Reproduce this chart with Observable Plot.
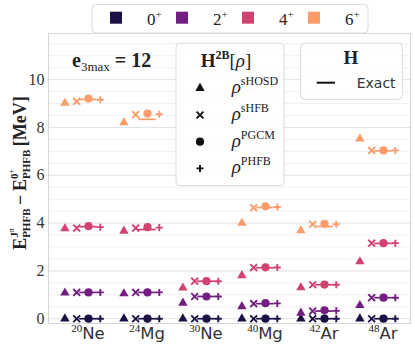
<!DOCTYPE html>
<html>
<head>
<meta charset="utf-8">
<script src="https://cdn.jsdelivr.net/npm/d3@7"></script>
<script src="https://cdn.jsdelivr.net/npm/@observablehq/plot@0.6"></script>
<style>
  html, body { margin: 0; padding: 0; background: white; }
</style>
</head>
<body>
<div id="chart"></div>
<script>
// ---------------- data ----------------
const massNumbers = ["20", "24", "30", "40", "42", "48"];
const elements = ["Ne", "Mg", "Ne", "Mg", "Ar", "Ar"];
const states = ["0+", "2+", "4+", "6+"];
const stateColors = ["#1c1044", "#731f81", "#d1426f", "#fc9c6b"];
const yTicks = [0, 2, 4, 6, 8, 10];
const methods = ["sHOSD", "sHFB", "PGCM", "PHFB"];

// rows: 0+, 2+, 4+, 6+ ; columns: nuclei
const rhoSHOSD = [
  [0, 0, 0, 0, 0, 0],
  [1.08, 1.05, 0.66, 0.51, 0.24, 0.56],
  [3.77, 3.67, 1.29, 1.81, 1.30, 2.39],
  [9.02, 8.21, null, 4.00, 3.69, 7.53]
];
const rhoSHFB = [
  [0, 0, 0, 0, 0, 0],
  [1.10, 1.10, 0.93, 0.63, 0.32, 0.88],
  [3.79, 3.79, 1.57, 2.14, 1.42, 3.16],
  [9.09, 8.54, null, 4.64, 3.95, 7.04]
];
const rhoPGCM = [
  [0, 0, 0, 0, 0, 0],
  [1.10, 1.10, 0.93, 0.65, 0.35, 0.88],
  [3.87, 3.83, 1.57, 2.15, 1.43, 3.16],
  [9.21, 8.58, null, 4.70, 3.97, 7.04]
];
const rhoPHFB = [
  [0, 0, 0, 0, 0, 0],
  [1.10, 1.10, 0.93, 0.64, 0.33, 0.88],
  [3.83, 3.81, 1.57, 2.14, 1.42, 3.16],
  [9.16, 8.55, null, 4.67, 3.95, 7.04]
];
const exactH = [
  [0, 0, 0, 0, 0, 0],
  [1.10, 1.10, 0.93, 0.63, 0.32, 0.88],
  [3.85, 3.73, 1.57, 2.13, 1.42, 3.15],
  [9.17, 8.34, null, 4.65, 3.86, 7.02]
];

// ---------------- build tables ----------------
const offsets = {sHOSD: -0.4, sHFB: -0.2, PGCM: 0, PHFB: 0.2};
const methodData = {sHOSD: rhoSHOSD, sHFB: rhoSHFB, PGCM: rhoPGCM, PHFB: rhoPHFB};
function rowsFor(method) {
  const out = [];
  methodData[method].forEach((vals, s) => vals.forEach((v, i) => {
    if (v != null) out.push({x: i + offsets[method], y: v, state: states[s]});
  }));
  return out;
}
const exactRows = [];
exactH.forEach((vals, s) => vals.forEach((v, i) => {
  if (v != null) exactRows.push({x1: i - 0.15, x2: i + 0.15, y: v, state: states[s]});
}));
const minorTicks = d3.range(0, 12, 0.5).filter(v => v % 2 !== 0);

const SERIF = "'Liberation Serif', 'DejaVu Serif', serif";
const SANS = "'DejaVu Sans', sans-serif";
const INK = "#222";

const chart = Plot.plot({
  width: 415,
  height: 349,
  marginLeft: 48,
  marginRight: 5,
  marginTop: 33,
  marginBottom: 26,
  x: {domain: [-0.678, 5.458], axis: null},
  y: {domain: [-0.2, 11.93], axis: null},
  color: {domain: states, range: stateColors},
  style: {background: "white", color: "#333", overflow: "visible"},
  marks: [
    Plot.ruleY(minorTicks, {stroke: "#f0f0f0", strokeWidth: 1}),
    Plot.ruleY(yTicks, {stroke: "#e1e1e1", strokeWidth: 1}),
    Plot.frame({stroke: "#d6d6d6"}),
    Plot.axisY(yTicks, {tickSize: 0, tickPadding: 4, fontSize: 16, fontFamily: SERIF, label: null}),
    Plot.ruleY(exactRows, {y: "y", x1: "x1", x2: "x2", stroke: "state", strokeWidth: 1.7}),
    Plot.dot(rowsFor("sHOSD"), {x: "x", y: "y", symbol: "triangle", fill: "state", r: 3.5}),
    Plot.dot(rowsFor("sHFB"), {x: "x", y: "y", symbol: "times", stroke: "state", r: 3.2, strokeWidth: 1.9}),
    Plot.dot(rowsFor("PGCM"), {x: "x", y: "y", symbol: "circle", fill: "state", r: 4.1}),
    Plot.dot(rowsFor("PHFB"), {x: "x", y: "y", symbol: "plus", stroke: "state", r: 2.4, strokeWidth: 1.9})
  ]
});
document.getElementById("chart").appendChild(chart);

// ---------------- rich text helpers ----------------
const svg = d3.select(chart);
const ctx = document.createElement("canvas").getContext("2d");
function measure(p) {
  ctx.font = `${p.style || "normal"} ${p.weight || "normal"} ${p.size}px ${p.family || SERIF}`;
  return ctx.measureText(p.t).width;
}
function layout(g, parts, x0) {
  let x = x0;
  for (const p of parts) {
    if (p.stack) {
      const ends = p.stack.map(seq => layout(g, seq, x));
      x = Math.max(...ends);
    } else {
      g.append("text")
        .attr("x", x).attr("y", p.dy || 0)
        .attr("text-anchor", "start")
        .style("font-family", p.family || SERIF)
        .style("font-size", p.size + "px")
        .style("font-weight", p.weight || "normal")
        .style("font-style", p.style || "normal")
        .style("white-space", "pre")
        .attr("fill", p.fill || INK)
        .text(p.t);
      x += measure(p) + (p.gap || 0);
    }
  }
  return x;
}
function rich(parent, parts, {x, y, anchor = "start", rotate = 0}) {
  const g = parent.append("g");
  const inner = g.append("g");
  const w = layout(inner, parts, 0);
  const shift = anchor === "middle" ? -w / 2 : anchor === "end" ? -w : 0;
  g.attr("transform", `translate(${x},${y}) rotate(${rotate})`);
  inner.attr("transform", `translate(${shift},0)`);
  return g;
}

const sx = chart.scale("x");
const ann = svg.append("g").attr("text-anchor", "start");

// x tick labels with superscript mass numbers
massNumbers.forEach((A, i) => {
  rich(ann, [
    {t: A, size: 11, dy: -7},
    {t: elements[i], size: 16.5, family: SANS, fill: "#333"}
  ], {x: sx.apply(i), y: 339, anchor: "middle"});
});

// y axis label
const B = "bold";
rich(ann, [
  {t: "E", size: 18, weight: B},
  {stack: [
    [{t: "J", size: 11, weight: B, dy: -8}, {t: "π", size: 8, dy: -12}],
    [{t: "PHFB", size: 11, weight: B, dy: 4}]
  ]},
  {t: "\u2009−\u2009", size: 18, weight: B},
  {t: "E", size: 18, weight: B},
  {stack: [
    [{t: "0", size: 11, weight: B, dy: -8}, {t: "+", size: 8, dy: -12}],
    [{t: "PHFB", size: 11, weight: B, dy: 4}]
  ]},
  {t: "\u2009[MeV]", size: 18, weight: B}
], {x: 26, y: 173, anchor: "middle", rotate: -90});

// e3max annotation
rich(ann, [
  {t: "e", size: 20, weight: B},
  {t: "3max", size: 13, dy: 4, gap: 5},
  {t: "= 12", size: 20, weight: B}
], {x: 72, y: 67, anchor: "start"});

// ---------------- legends ----------------
function box(x, y, w, h) {
  ann.append("rect").attr("x", x).attr("y", y).attr("width", w).attr("height", h)
    .attr("rx", 4).attr("fill", "white").attr("fill-opacity", 0.9)
    .attr("stroke", "#d9d9d9").attr("stroke-width", 1);
}

// state legend (top)
box(92, 4.5, 276, 28.5);
states.forEach((s, k) => {
  const x0 = 110 + k * 66;
  ann.append("rect").attr("x", x0).attr("y", 11.7).attr("width", 12).attr("height", 12)
    .attr("fill", stateColors[k]);
  rich(ann, [
    {t: s[0], size: 17},
    {t: "+", size: 11, dy: -7}
  ], {x: x0 + 37, y: 24.5, anchor: "start"});
});

// H2B legend
box(176, 43.3, 108, 142.4);
rich(ann, [
  {t: "H", size: 19, weight: B},
  {t: "2B", size: 12, weight: B, dy: -8},
  {t: "[", size: 19},
  {t: "ρ", size: 19, style: "italic"},
  {t: "]", size: 19}
], {x: 226, y: 66.7, anchor: "middle"});
const legSymbols = ["triangle", "times", "circle", "plus"];
const symMap = {triangle: d3.symbolTriangle, times: d3.symbolTimes, circle: d3.symbolCircle, plus: d3.symbolPlus};
const symSize = {triangle: Math.PI * 3.5 * 3.5, times: Math.PI * 3.2 * 3.2, circle: Math.PI * 4.1 * 4.1, plus: Math.PI * 2.4 * 2.4};
methods.forEach((m, k) => {
  const cy = 88.3 + k * 26.7;
  const sym = legSymbols[k];
  const stroked = sym === "times" || sym === "plus";
  ann.append("path")
    .attr("d", d3.symbol(symMap[sym], symSize[sym])())
    .attr("transform", `translate(200,${cy})`)
    .attr("fill", stroked ? "none" : "#111")
    .attr("stroke", stroked ? "#111" : "none")
    .attr("stroke-width", 1.9);
  rich(ann, [
    {t: "ρ", size: 19, style: "italic"},
    {t: m, size: 12, dy: -8}
  ], {x: 231.7, y: cy + 5, anchor: "start"});
});

// H legend
box(300.7, 43.3, 101.6, 56);
rich(ann, [{t: "H", size: 19, weight: B}], {x: 351, y: 64, anchor: "middle"});
ann.append("line").attr("x1", 316.7).attr("x2", 335).attr("y1", 82.7).attr("y2", 82.7)
  .attr("stroke", "#111").attr("stroke-width", 2);
rich(ann, [{t: "Exact", size: 14, family: SANS, fill: "#333"}], {x: 356.7, y: 88.3, anchor: "start"});
</script>
</body>
</html>
